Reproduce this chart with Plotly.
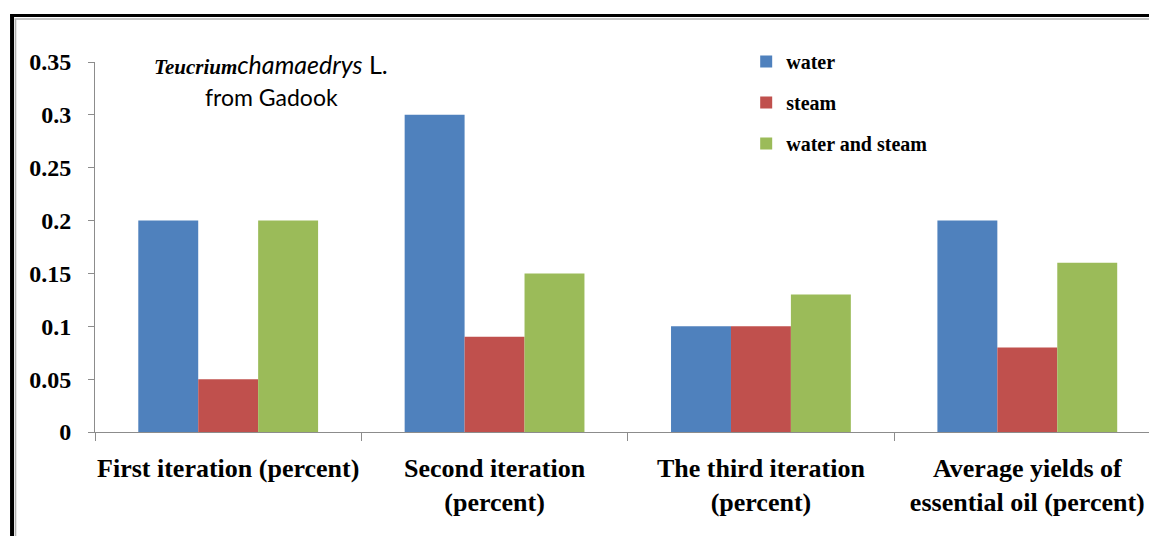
import plotly.graph_objects as go

categories = ["First iteration (percent)", "Second iteration<br>(percent)",
              "The third iteration<br>(percent)", "Average yields of<br>essential oil (percent)"]
water = [0.2, 0.3, 0.1, 0.2]
steam = [0.05, 0.09, 0.1, 0.08]
water_and_steam = [0.2, 0.15, 0.13, 0.16]
series_names = ["water", "steam", "water and steam"]
colors = ["#4F81BD", "#C0504D", "#9BBB59"]
y_ticks = [0, 0.05, 0.1, 0.15, 0.2, 0.25, 0.3, 0.35]
y_tick_labels = ["0", "0.05", "0.1", "0.15", "0.2", "0.25", "0.3", "0.35"]

W, H = 1149, 536
L, T, B = 94.5, 62, 432
R = 0
pw = W - L - R
ph = B - T

def px(x):
    return (x - L) / pw

def py(y):
    return (B - y) / ph

fig = go.Figure()
for i, (name, vals) in enumerate(zip(series_names, [water, steam, water_and_steam])):
    fig.add_trace(go.Bar(x=categories, y=vals, name=name, marker_color=colors[i],
                         marker_line_width=0, legendgroup=name))

serif = "Liberation Serif, Times New Roman, serif"
cat_w = 266.5
x_max = -0.5 + pw / cat_w

fig.update_layout(
    width=W, height=H,
    margin=dict(l=L, r=R, t=T, b=H - B, pad=0),
    paper_bgcolor="white", plot_bgcolor="white",
    barmode="group", bargap=0.325, bargroupgap=0,
    showlegend=True,
    legend=dict(x=px(746), y=py(42), xanchor="left", yanchor="top",
                font=dict(family=serif, size=20, color="black", weight="bold"),
                bgcolor="rgba(0,0,0,0)", tracegroupgap=12, traceorder="grouped",
                itemclick=False),
    xaxis=dict(range=[-0.5, x_max], showgrid=False, showline=True, linecolor="#8c8c8c",
               linewidth=1, ticks="outside", tickson="boundaries", ticklen=8,
               tickcolor="#8c8c8c",
               tickfont=dict(family=serif, size=26, color="black", weight="bold"),
               ticklabelstandoff=13, tickangle=0, fixedrange=True),
    yaxis=dict(range=[0, 0.35], tickvals=y_ticks, ticktext=y_tick_labels, showgrid=False,
               showline=True, linecolor="#8c8c8c", linewidth=1, ticks="outside", ticklen=6,
               tickcolor="#8c8c8c",
               tickfont=dict(family=serif, size=24, color="black", weight="bold"),
               ticklabelstandoff=12, zeroline=False, fixedrange=True),
)

fig.add_annotation(
    xref="paper", yref="paper", x=px(271), y=py(64), xanchor="center", yanchor="middle",
    showarrow=False,
    text=('<span style="font-family:Liberation Serif;font-size:21px"><b><i>Teucrium</i></b></span>'
          '<span style="font-family:Lato;font-size:25px"><i>chamaedrys</i> L.</span>'),
    font=dict(family="Lato", size=23, color="black"),
)
fig.add_annotation(
    xref="paper", yref="paper", x=px(271), y=py(97), xanchor="center", yanchor="middle",
    showarrow=False, text="from Gadook",
    font=dict(family="Lato", size=23, color="black"),
)

# outer frame
fig.add_shape(type="line", xref="paper", yref="paper", x0=px(10), x1=px(W + 5), y0=py(15.5), y1=py(15.5),
              line=dict(color="black", width=3))
fig.add_shape(type="line", xref="paper", yref="paper", x0=px(14), x1=px(W + 5), y0=py(19), y1=py(19),
              line=dict(color="#b0b0b0", width=1.5))
fig.add_shape(type="line", xref="paper", yref="paper", x0=px(11.5), x1=px(11.5), y0=py(14), y1=py(H + 5),
              line=dict(color="black", width=4))
fig.add_shape(type="line", xref="paper", yref="paper", x0=px(15), x1=px(15), y0=py(19), y1=py(H + 5),
              line=dict(color="#b0b0b0", width=1.5))

fig.write_html("out.html", config={"displayModeBar": False},
               post_script="document.body.style.margin='0';document.body.style.overflow='hidden';")
